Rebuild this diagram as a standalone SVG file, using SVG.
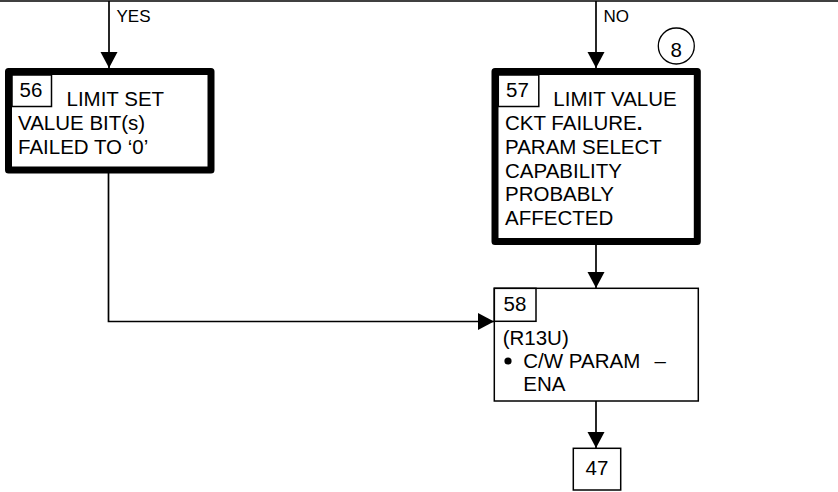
<svg xmlns="http://www.w3.org/2000/svg" width="838" height="492" viewBox="0 0 838 492">
  <defs>
    <marker id="arr" markerUnits="userSpaceOnUse" markerWidth="17" markerHeight="18" refX="16" refY="8.5" orient="auto">
      <path d="M0,0 L16,8.5 L0,17 z" fill="#000"/>
    </marker>
    <style>
      .t { font-family: "Liberation Sans", Arial, sans-serif; font-size: 20.5px; fill: #000; }
      .lbl { font-family: "Liberation Sans", Arial, sans-serif; font-size: 17px; fill: #000; }
      .thick { fill: #fff; stroke: #000; stroke-width: 7; stroke-linejoin: round; }
      .thin { fill: #fff; stroke: #000; stroke-width: 1.5; }
      .num { fill: none; stroke: #000; stroke-width: 1.5; }
      .conn { fill: none; stroke: #000; stroke-width: 1.7; }
    </style>
  </defs>
  <rect width="838" height="492" fill="#fff"/>
  <g id="connectors">
    <path class="conn" d="M0 1 H838"/>
    <path class="conn" d="M109 1 V68" marker-end="url(#arr)"/>
    <path class="conn" d="M596 1 V68" marker-end="url(#arr)"/>
    <path class="conn" d="M596 245 V288" marker-end="url(#arr)"/>
    <path class="conn" d="M108.5 173 V321.5 H494" marker-end="url(#arr)"/>
    <path class="conn" d="M596 401 V448" marker-end="url(#arr)"/>
    <text class="lbl" x="116.5" y="21.5">YES</text>
    <text class="lbl" x="603.5" y="21.5">NO</text>
  </g>
  <g id="node56">
    <rect class="thick" x="8.5" y="71.5" width="202.5" height="98.5"/>
    <rect class="num" x="12" y="75" width="39.5" height="31.5"/>
    <text class="t" x="19.5" y="97">56</text>
    <text class="t" x="66.5" y="106">LIMIT SET</text>
    <text class="t" x="18" y="130">VALUE BIT(s)</text>
    <text class="t" x="18" y="154">FAILED TO ‘0’</text>
  </g>
  <g id="node57">
    <rect class="thick" x="495" y="71.5" width="202.3" height="170"/>
    <rect class="num" x="498.3" y="75" width="40.5" height="31.5"/>
    <text class="t" x="506" y="97">57</text>
    <text class="t" x="553.3" y="106">LIMIT VALUE</text>
    <text class="t" x="505" y="130">CKT FAILURE<tspan font-weight="bold">.</tspan></text>
    <text class="t" x="505" y="153.5">PARAM SELECT</text>
    <text class="t" x="505" y="177.5">CAPABILITY</text>
    <text class="t" x="505" y="201">PROBABLY</text>
    <text class="t" x="505" y="224.5">AFFECTED</text>
  </g>
  <g id="ref8">
    <circle cx="676.3" cy="46" r="18" fill="#fff" stroke="#000" stroke-width="1.3"/>
    <text class="t" x="676.3" y="56.5" text-anchor="middle">8</text>
  </g>
  <g id="node58">
    <rect class="thin" x="494.3" y="288.3" width="204" height="112.7"/>
    <rect class="num" x="494.3" y="288.3" width="41.7" height="33"/>
    <text class="t" x="503.5" y="310.5">58</text>
    <text class="t" x="502.7" y="344.5">(R13U)</text>
    <circle cx="508" cy="361" r="3.6" fill="#000"/>
    <text class="t" x="523.3" y="368">C/W PARAM<tspan x="654.5">–</tspan></text>
    <text class="t" x="523.3" y="390.5">ENA</text>
  </g>
  <g id="node47">
    <rect class="thin" x="573.3" y="448.3" width="47.4" height="41.7"/>
    <text class="t" x="597" y="475" text-anchor="middle">47</text>
  </g>
</svg>
